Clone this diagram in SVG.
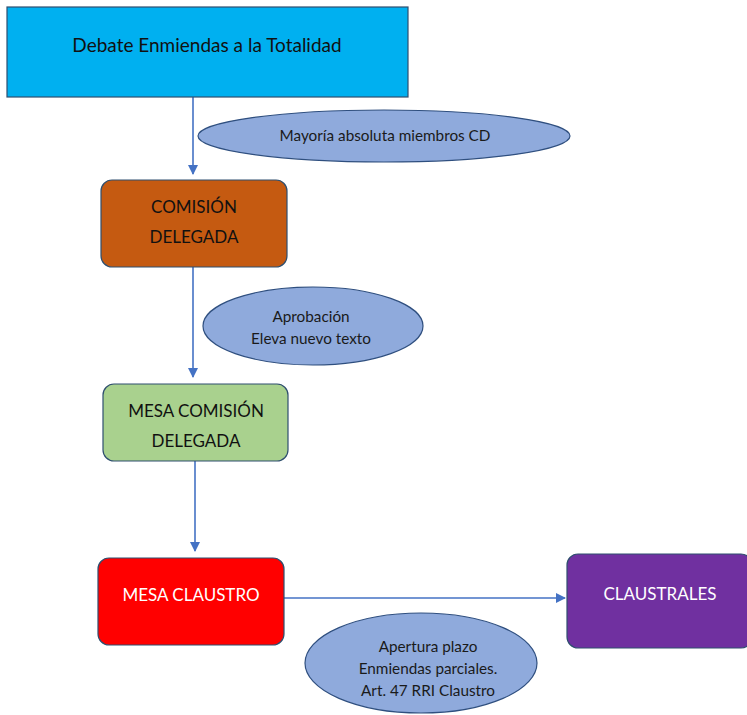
<svg xmlns="http://www.w3.org/2000/svg" width="747" height="715" viewBox="0 0 747 715">
<defs>
<marker id="ah" markerWidth="10" markerHeight="10" refX="9" refY="5" orient="auto" markerUnits="userSpaceOnUse">
<path d="M0,0 L10,5 L0,10 z" fill="#4472C4"/>
</marker>
<style>
text{font-family:Lato,"Liberation Sans",sans-serif;text-anchor:middle;dominant-baseline:central}
.box{stroke:#2F4F6F;stroke-width:1.2}
.ell{fill:#8FAADC;stroke:#2F4F7F;stroke-width:1.2}
.lbl{font-size:15.3px;fill:#1a1a1a}
.big{font-size:17px}
.conn{stroke:#4472C4;stroke-width:1.6;fill:none;marker-end:url(#ah)}
</style>
</defs>
<rect width="747" height="715" fill="#ffffff"/>
<g id="connectors">
<line class="conn" x1="193" y1="97" x2="193" y2="174"/>
<line class="conn" x1="193" y1="267" x2="193" y2="377"/>
<line class="conn" x1="195" y1="461" x2="195" y2="551"/>
<line class="conn" x1="284" y1="598" x2="565" y2="598"/>
</g>
<g id="n-debate">
<rect class="box" x="7" y="7" width="401" height="90" fill="#00B0F0"/>
<text x="207" y="44" font-size="19" fill="#111">Debate Enmiendas a la Totalidad</text>
</g>
<g id="e-mayoria">
<ellipse class="ell" cx="384" cy="136" rx="186" ry="26"/>
<text class="lbl" x="385" y="135">Mayoría absoluta miembros CD</text>
</g>
<g id="n-comision">
<rect class="box" x="101" y="180" width="186" height="87" rx="11" fill="#C55A11"/>
<text class="big" x="194" y="206" fill="#111">COMISIÓN</text>
<text class="big" x="194" y="236" fill="#111">DELEGADA</text>
</g>
<g id="e-aprobacion">
<ellipse class="ell" cx="313" cy="326" rx="110" ry="39"/>
<text class="lbl" x="311" y="316">Aprobación</text>
<text class="lbl" x="311" y="338">Eleva nuevo texto</text>
</g>
<g id="n-mesa-comision">
<rect class="box" x="103" y="384" width="185" height="77" rx="11" fill="#A9D18E"/>
<text class="big" x="196" y="410" fill="#111">MESA COMISIÓN</text>
<text class="big" x="196" y="440" fill="#111">DELEGADA</text>
</g>
<g id="n-mesa-claustro">
<rect class="box" x="98" y="558" width="186" height="87" rx="11" fill="#FF0000"/>
<text class="big" x="191" y="594" fill="#ffffff">MESA CLAUSTRO</text>
</g>
<g id="n-claustrales">
<rect class="box" x="567" y="554" width="185" height="94" rx="11" fill="#7030A0"/>
<text class="big" x="660" y="593" fill="#ffffff">CLAUSTRALES</text>
</g>
<g id="e-apertura">
<ellipse class="ell" cx="421" cy="663" rx="116" ry="50"/>
<text class="lbl" x="428" y="646">Apertura plazo</text>
<text class="lbl" x="428" y="668">Enmiendas parciales.</text>
<text class="lbl" x="428" y="690">Art. 47 RRI Claustro</text>
</g>
</svg>
